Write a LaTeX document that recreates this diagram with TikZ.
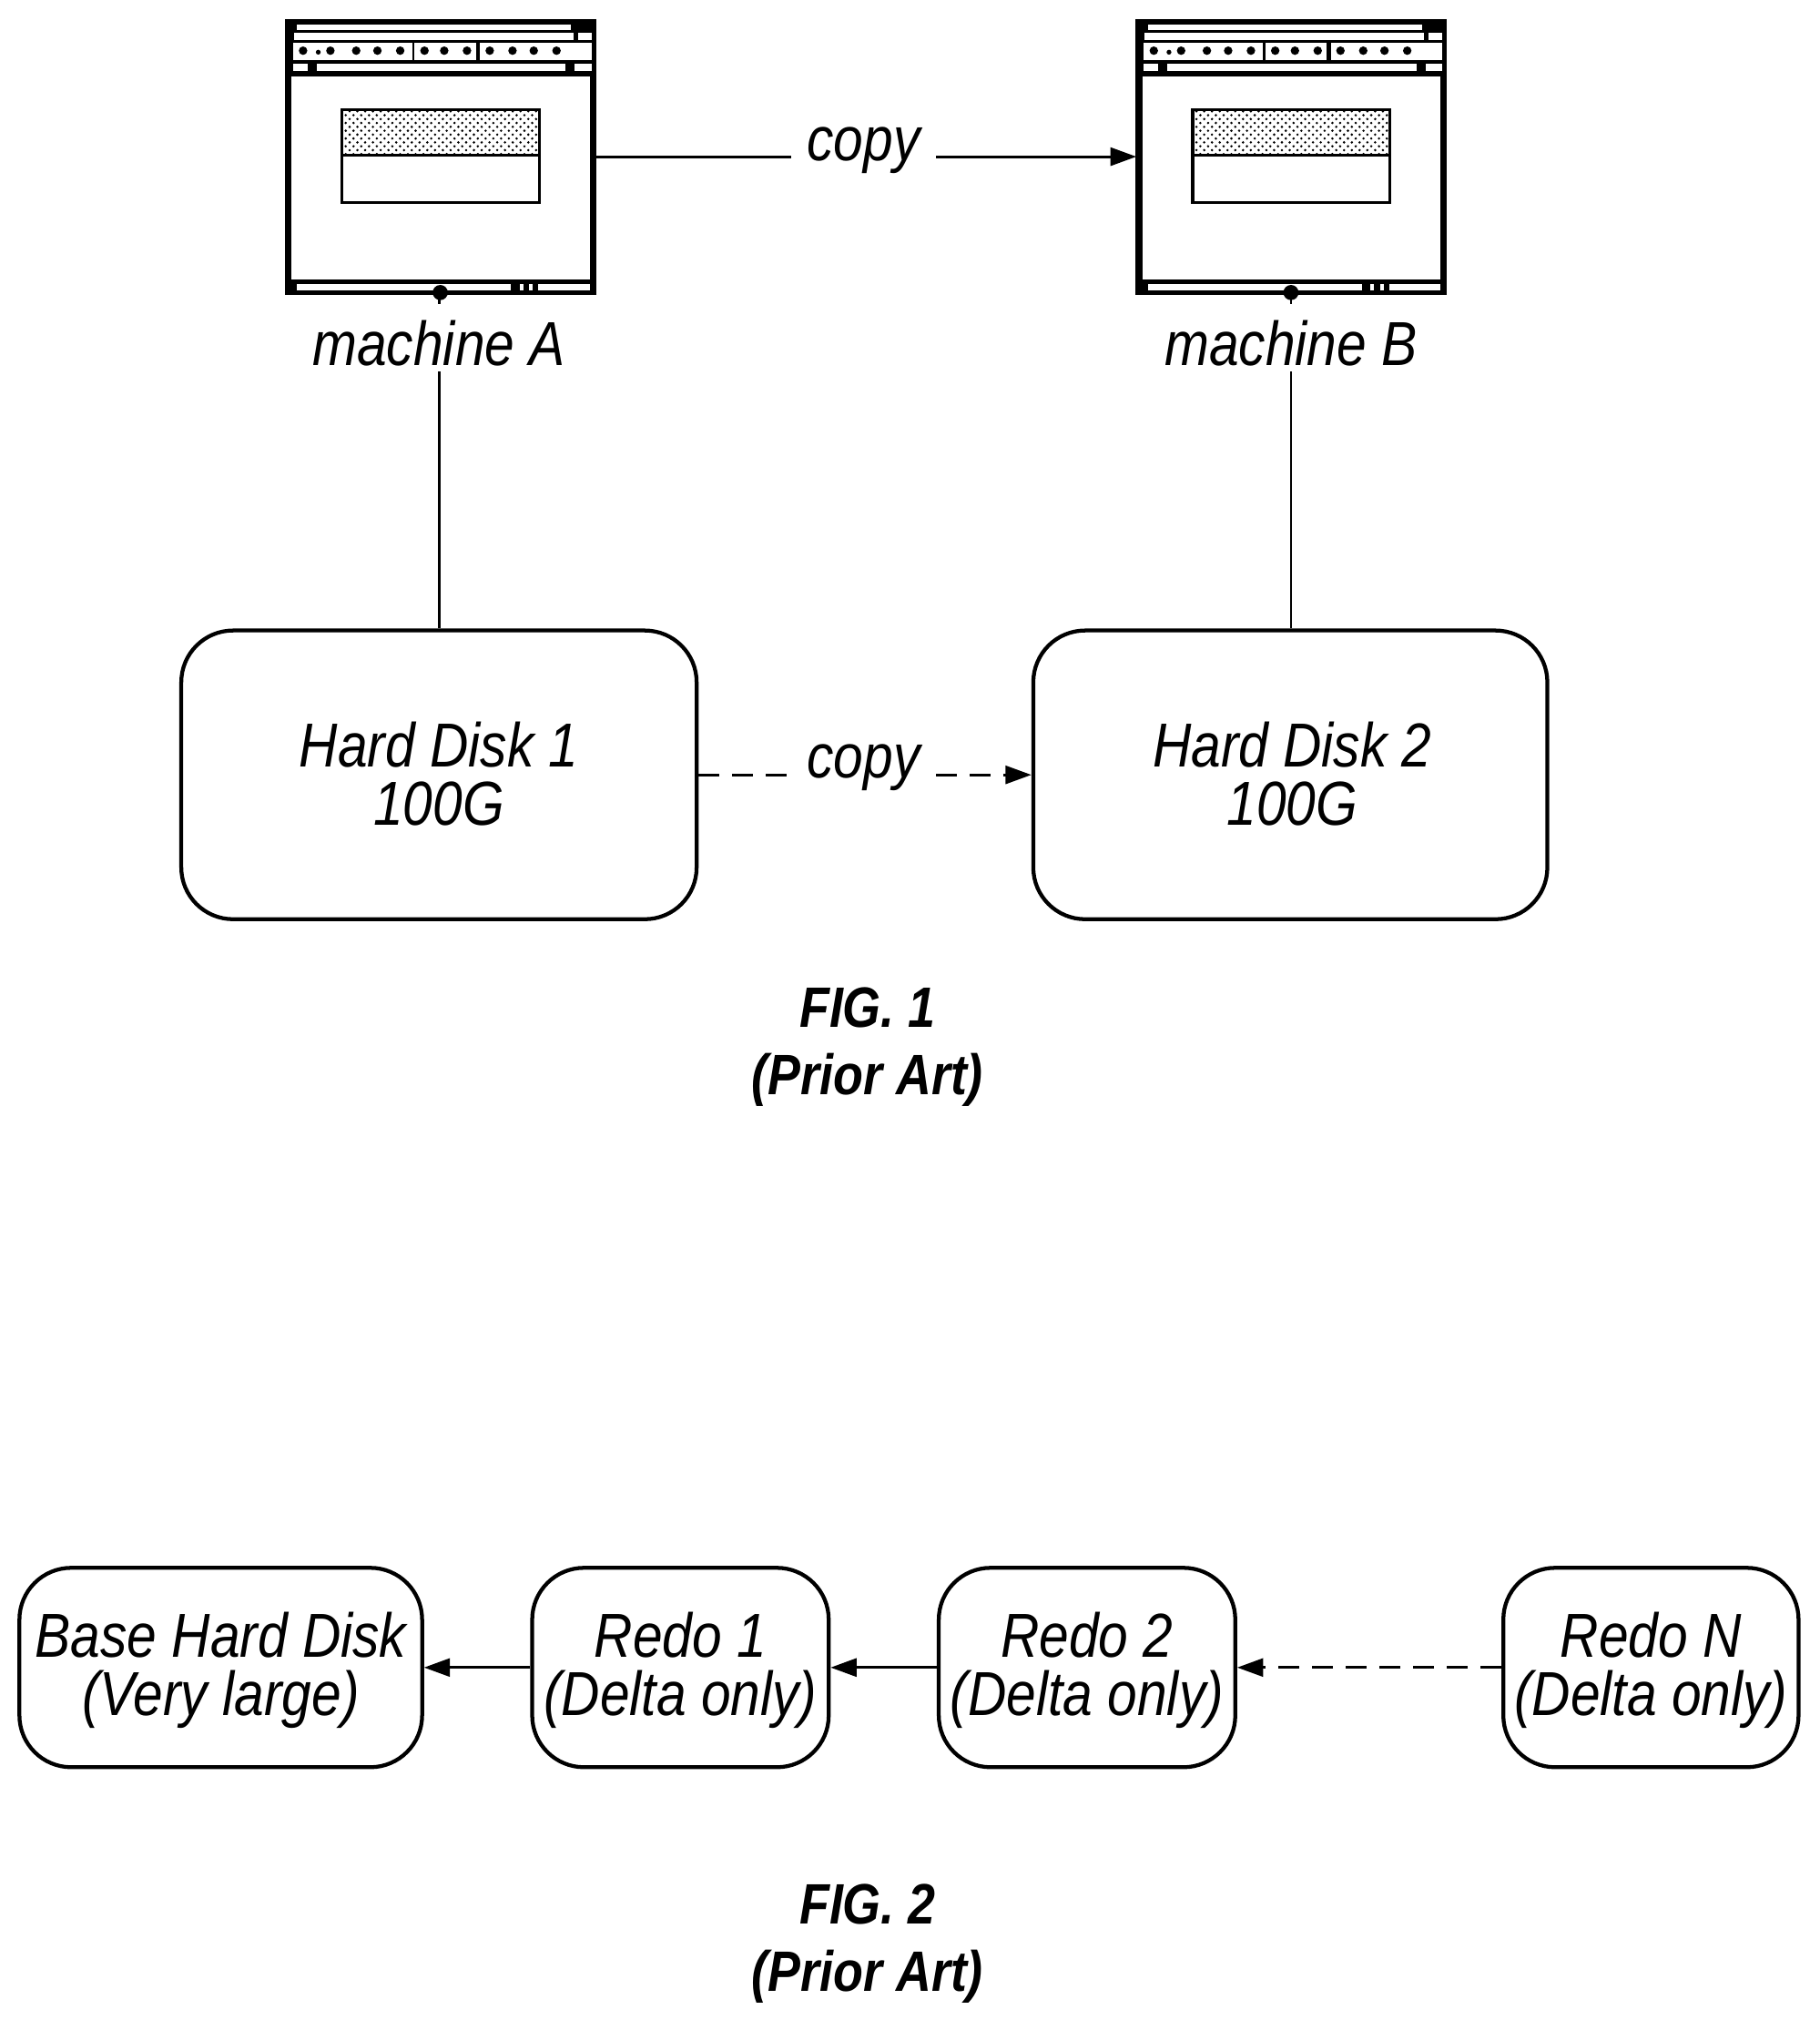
\documentclass[tikz,border=0pt]{standalone}
\usepackage{fontspec}
\setmainfont{Liberation Sans}[FakeStretch=0.86]
\usetikzlibrary{arrows.meta,patterns}
\begin{document}
\begin{tikzpicture}[x=0.5pt,y=-0.5pt,
  txt/.style={font=\fontsize{24}{22.5}\selectfont\itshape,align=center,inner sep=0pt},
  fig/.style={font=\fontsize{22}{26}\selectfont\bfseries\itshape,align=center,inner sep=0pt},
  disk/.style={draw,line width=1.5pt,rounded corners=20pt,inner sep=0pt},
  conn/.style={line width=1pt},
  arr/.style={conn,-{Stealth[length=10pt,width=7pt,inset=0pt]}},
  win/.pic={
    \begin{scope}[shift={(-35,-62)}]
    \fill (35,62) rectangle (1060,970);
    \fill[white] (75,78) rectangle (978,96);
    \fill[white] (65,105) rectangle (985,130);
    \fill[white] (1000,105) rectangle (1045,130);
    \fill[white] (62,140) rectangle (455,197);
    \fill[white] (462,140) rectangle (665,197);
    \fill[white] (678,140) rectangle (1045,197);
    \foreach \x in {95,185,270,340,415,495,560,635,710,785,855,930}
      \fill (\x,165) circle (14);
    \fill (145,170) circle (8);
    \fill[white] (62,208) rectangle (110,233);
    \fill[white] (140,208) rectangle (960,233);
    \fill[white] (990,208) rectangle (1045,233);
    \fill[white] (57,250) rectangle (1040,918);
    \fill[white] (75,935) rectangle (780,955);
    \fill[white] (870,935) rectangle (1040,955);
    \fill[white] (808,935) rectangle (820,955);
    \fill[white] (840,935) rectangle (852,955);
    \fill[pattern=crosshatch dots] (228,365) rectangle (868,505);
    \draw[line width=1.2pt] (223,360) rectangle (873,665);
    \draw[line width=1.2pt] (223,510) -- (873,510);
    \fill (547,962) circle (25);
    \end{scope}}]
\useasboundingbox (0,0) rectangle (1405,1568);
% machines
\pic[scale=0.2344] at (220,15) {win};
\pic[scale=0.2344] at (877,15) {win};
\node (mA) at (339,121) [minimum width=119pt,minimum height=106pt,inner sep=0pt] {};
\node (mB) at (997,121) [minimum width=119pt,minimum height=106pt,inner sep=0pt] {};
\coordinate (dA) at (339,227);
\coordinate (dB) at (997,227);
\node[txt] (lA) at (339,265) {machine A};
\node[txt] (lB) at (997,265) {machine B};
% disks
\node[disk,minimum width=199pt,minimum height=111.5pt] (d1) at (339,598.5) {};
\node[txt] at (339,598) {Hard Disk 1\\100G};
\node[disk,minimum width=198.5pt,minimum height=111.5pt] (d2) at (996.5,598.5) {};
\node[txt] at (998,598) {Hard Disk 2\\100G};
\draw[conn] (dA) -- ++(0,8);
\draw[conn] (dB) -- ++(0,8);
\draw[conn] (lA.south) ++(0,4) -- (d1.north -| dA);
\draw[conn] (lB.south) ++(0,4) -- (d2.north -| dB);
% copy arrows
\node[txt,fill=white,inner xsep=6pt] (c1) at (667,116) {copy};
\draw[conn] (mA.east) -- (c1.west |- mA.east);
\draw[arr] (c1.east |- mB.west) -- (mB.west);
\node[txt,fill=white,inner xsep=6pt] (c2) at (667,593) {copy};
\draw[conn,dash pattern=on 8pt off 5pt] (d1.east) -- (c2.west |- d1.east);
\draw[arr,dash pattern=on 8pt off 5pt] (c2.east |- d2.west) -- (d2.west);
\node[fig] at (670,809) {FIG. 1\\(Prior Art)};
% fig 2
\node[disk,minimum width=155.5pt,minimum height=77pt] (b) at (170.5,1288) {};
\node[txt] at (170.5,1290) {Base Hard Disk\\(Very large)};
\node[disk,minimum width=114.5pt,minimum height=77pt] (r1) at (525.5,1288) {};
\node[txt] at (525.5,1290) {Redo 1\\(Delta only)};
\node[disk,minimum width=114.5pt,minimum height=77pt] (r2) at (839.5,1288) {};
\node[txt] at (839.5,1290) {Redo 2\\(Delta only)};
\node[disk,minimum width=114pt,minimum height=77pt] (rn) at (1275,1288) {};
\node[txt] at (1275,1290) {Redo N\\(Delta only)};
\draw[arr] (r1.west) -- (b.east);
\draw[arr] (r2.west) -- (r1.east);
\draw[arr,dash pattern=on 8pt off 5pt] (rn.west) -- (r2.east);
\node[fig] at (670,1501) {FIG. 2\\(Prior Art)};
\end{tikzpicture}
\end{document}
